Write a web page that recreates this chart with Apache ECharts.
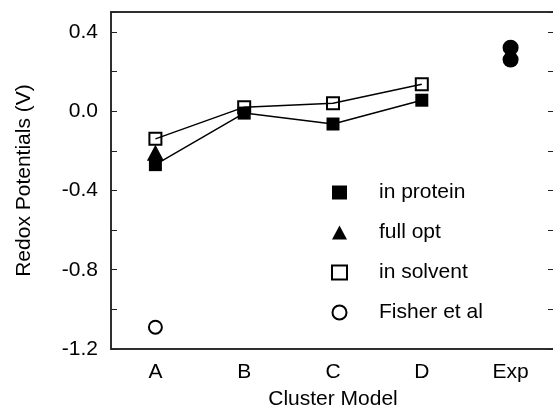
<!DOCTYPE html>
<html>
<head>
<meta charset="utf-8">
<script src="https://cdn.jsdelivr.net/npm/echarts@6/dist/echarts.min.js"></script>
<style>
  html, body { margin: 0; padding: 0; background: #fff; }
  #main { width: 553px; height: 409px; }
</style>
</head>
<body>
<div id="main"></div>
<script>
// categories and values
var categories = ['A', 'B', 'C', 'D', 'Exp'];
var inProtein = [-0.27, -0.01, -0.065, 0.055, null];
var fullOpt = [-0.21, null, null, null, null];
var inSolvent = [-0.14, 0.02, 0.04, 0.135, null];
var fisher = [-1.09, null, null, null, null];
var expValues = [0.32, 0.26];
var yLabels = [-1.2, -0.8, -0.4, 0.0, 0.4];

var font = 'Liberation Sans, Arial, sans-serif';
var fs = 21;
var ink = '#000';

var dom = document.getElementById('main');
var myChart = echarts.init(dom);

var yLabelFmt = function (v) {
    for (var i = 0; i < yLabels.length; i++) {
        if (Math.abs(v - yLabels[i]) < 1e-6) return yLabels[i].toFixed(1);
    }
    return '';
};

var option = {
    animation: false,
    backgroundColor: '#fff',
    textStyle: { fontFamily: font },
    grid: {
        left: 111, top: 12, width: 444, bottom: 60,
        outerBoundsMode: 'none', containLabel: false,
        show: true, borderColor: '#222', borderWidth: 1.5
    },
    legend: {
        orient: 'vertical',
        left: 326,
        top: 177,
        itemWidth: 15,
        itemHeight: 14,
        itemGap: 19,
        textStyle: { fontSize: fs, color: ink, fontFamily: font, padding: [0, 0, 0, 27] },
        data: [
            { name: 'in protein', icon: 'rect', itemStyle: { color: ink, opacity: 1 } },
            { name: 'full opt', icon: 'triangle', itemStyle: { color: ink, opacity: 1 } },
            { name: 'in solvent', icon: 'rect', itemStyle: { color: '#fff', borderColor: ink, borderWidth: 2, opacity: 1 } },
            { name: 'Fisher et al', icon: 'circle', itemStyle: { color: '#fff', borderColor: ink, borderWidth: 2, opacity: 1 } }
        ]
    },
    xAxis: [{
        type: 'category',
        data: categories,
        boundaryGap: true,
        name: 'Cluster Model',
        nameLocation: 'middle',
        nameGap: 40,
        nameTextStyle: { fontSize: fs, color: ink, fontFamily: font },
        axisLine: { onZero: false, lineStyle: { color: '#222', width: 1.5 } },
        axisTick: { inside: true, alignWithLabel: true, length: 7, lineStyle: { color: '#222' } },
        axisLabel: { fontSize: fs, color: ink, margin: 13, fontFamily: font },
        splitLine: { show: false }
    }, {
        type: 'category',
        data: categories,
        position: 'top',
        boundaryGap: true,
        axisLine: { onZero: false, lineStyle: { color: '#222', width: 1.5 } },
        axisTick: { inside: true, alignWithLabel: true, length: 7, lineStyle: { color: '#222' } },
        axisLabel: { show: false },
        splitLine: { show: false }
    }],
    yAxis: [{
        type: 'value',
        min: -1.2,
        max: 0.5,
        interval: 0.2,
        name: 'Redox Potentials (V)',
        nameLocation: 'middle',
        nameGap: 76,
        nameTextStyle: { fontSize: fs, color: ink, fontFamily: font },
        axisLine: { show: true, onZero: false, lineStyle: { color: '#222', width: 1.5 } },
        axisTick: { show: true, inside: true, length: 6, lineStyle: { color: '#222' } },
        axisLabel: { fontSize: fs, color: ink, margin: 13, fontFamily: font, formatter: yLabelFmt },
        splitLine: { show: false }
    }, {
        type: 'value',
        position: 'right',
        min: -1.2,
        max: 0.5,
        interval: 0.2,
        axisLine: { show: true, onZero: false, lineStyle: { color: '#222', width: 1.5 } },
        axisTick: { show: true, inside: true, length: 7, lineStyle: { color: '#222' } },
        axisLabel: { show: false },
        splitLine: { show: false }
    }],
    series: [
        {
            name: 'full opt', type: 'scatter', data: fullOpt,
            symbol: 'triangle', symbolSize: [17, 16],
            itemStyle: { color: ink, opacity: 1 }
        },
        {
            name: 'in protein', type: 'line', data: inProtein,
            symbol: 'rect', symbolSize: 13,
            itemStyle: { color: ink, opacity: 1 },
            lineStyle: { color: ink, width: 1.5 }
        },
        {
            name: 'in solvent', type: 'line', data: inSolvent,
            symbol: 'rect', symbolSize: 12,
            itemStyle: { color: 'rgba(255,255,255,0)', borderColor: ink, borderWidth: 2 },
            lineStyle: { color: ink, width: 1.5 }
        },
        {
            name: 'Fisher et al', type: 'scatter', data: fisher,
            symbol: 'circle', symbolSize: 13,
            itemStyle: { color: '#fff', borderColor: ink, borderWidth: 2, opacity: 1 }
        },
        {
            name: 'Exp', type: 'scatter',
            data: expValues.map(function (v) { return ['Exp', v]; }),
            symbol: 'circle', symbolSize: 16,
            itemStyle: { color: ink, opacity: 1 }
        }
    ]
};

if (option && typeof option === 'object') {
    myChart.setOption(option, true);
}
</script>
</body>
</html>
